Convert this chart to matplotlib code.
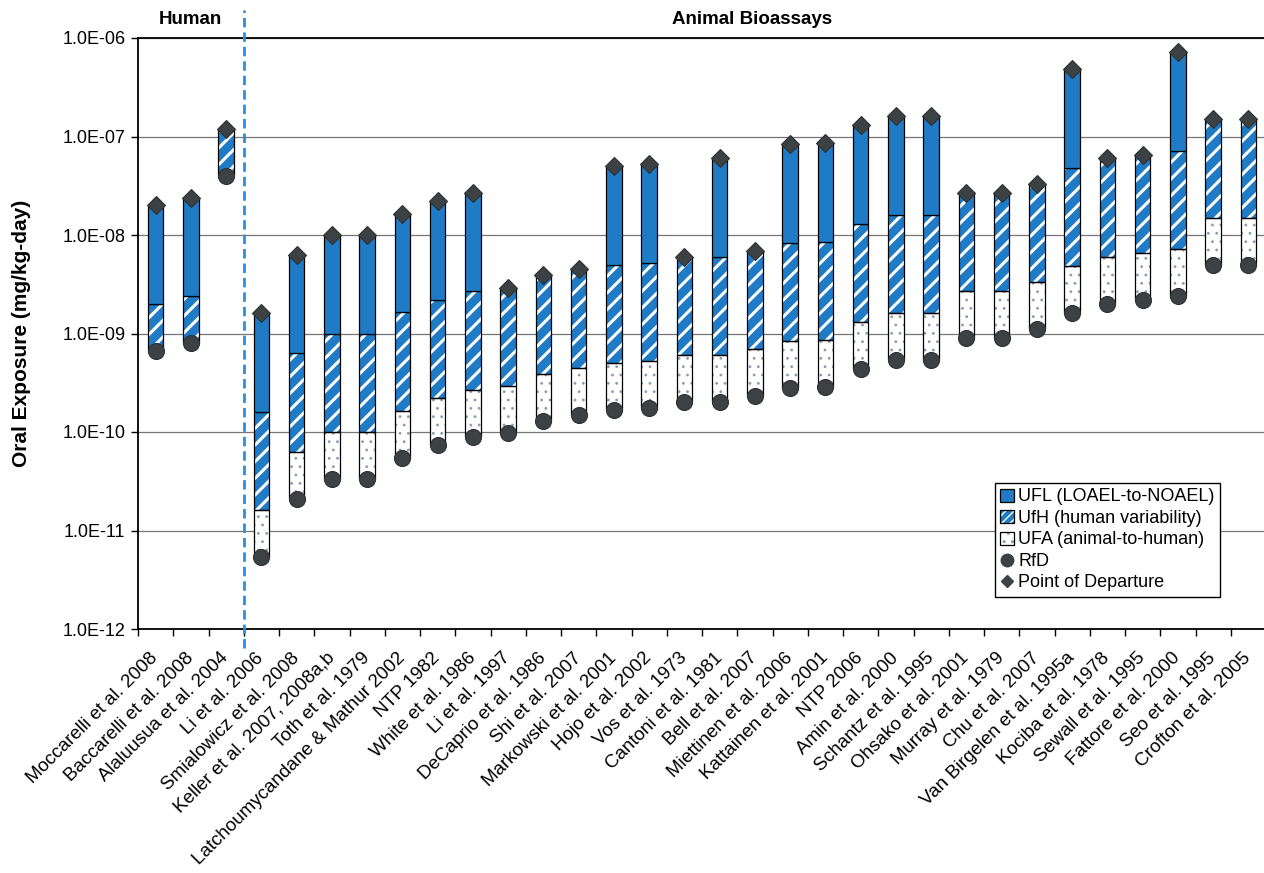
import numpy as np
import matplotlib
matplotlib.use("Agg")
import matplotlib.pyplot as plt
from matplotlib.patches import Patch
from matplotlib.lines import Line2D
from matplotlib.ticker import FixedLocator, FuncFormatter

plt.rcParams['font.family'] = ['Liberation Sans', 'DejaVu Sans']

studies = ["Moccarelli et al. 2008", "Baccarelli et al. 2008", "Alaluusua et al. 2004",
           "Li et al. 2006", "Smialowicz et al. 2008", "Keller et al. 2007, 2008a,b",
           "Toth et al. 1979", "Latchoumycandane & Mathur 2002", "NTP 1982",
           "White et al. 1986", "Li et al. 1997", "DeCaprio et al. 1986", "Shi et al. 2007",
           "Markowski et al. 2001", "Hojo et al. 2002", "Vos et al. 1973",
           "Cantoni et al. 1981", "Bell et al. 2007", "Miettinen et al. 2006",
           "Kattainen et al. 2001", "NTP 2006", "Amin et al. 2000", "Schantz et al. 1995",
           "Ohsako et al. 2001", "Murray et al. 1979", "Chu et al. 2007",
           "Van Birgelen et al. 1995a", "Kociba et al. 1978", "Sewall et al. 1995",
           "Fattore et al. 2000", "Seo et al. 1995", "Crofton et al. 2005"]

# point of departure (mg/kg-day)
pod = [2.0e-8, 2.4e-8, 1.2e-7, 1.6e-9, 6.3e-9, 1.0e-8, 1.0e-8, 1.65e-8,
       2.2e-8, 2.7e-8, 2.9e-9, 3.9e-9, 4.5e-9, 5.0e-8, 5.2e-8, 6.0e-9,
       6.0e-8, 6.9e-9, 8.3e-8, 8.5e-8, 1.3e-7, 1.6e-7, 1.6e-7, 2.7e-8,
       2.7e-8, 3.3e-8, 4.8e-7, 6.0e-8, 6.5e-8, 7.2e-7, 1.5e-7, 1.5e-7]
# uncertainty factors
ufl = [10, 10, 1, 10, 10, 10, 10, 10, 10, 10, 1, 1, 1, 10, 10, 1,
       10, 1, 10, 10, 10, 10, 10, 1, 1, 1, 10, 1, 1, 10, 1, 1]
ufh = [3, 3, 3] + [10] * 29
ufa = [1, 1, 1] + [3] * 29

n_human = 3

pod = np.array(pod)
ufl = np.array(ufl)
ufh = np.array(ufh)
ufa = np.array(ufa)
rfd = pod / (ufl * ufh * ufa)

blue = '#1f7bc6'
mark = '#3c4144'
dotc = '#8c9cb0'
x = np.arange(len(studies))
w = 0.44


def thin_hatch(patches, lw):
    for p in patches:
        if hasattr(p, 'set_hatch_linewidth'):
            p.set_hatch_linewidth(lw)


fig = plt.figure(figsize=(12.64, 8.73), dpi=100)
ax = fig.add_axes([138 / 1264, 1 - 629 / 873, 1128 / 1264, 591 / 873])
ax.set_yscale('log')

# stacked segments: UFA (bottom), UfH, UFL (top)
lo_a, hi_a = rfd, rfd * ufa
lo_h, hi_h = hi_a, hi_a * ufh
lo_l, hi_l = hi_h, pod

m = ufa > 1
with plt.rc_context({'hatch.linewidth': 0.8}):
    dots = ax.bar(x[m], (hi_a - lo_a)[m], bottom=lo_a[m], width=w, color='white',
                  edgecolor=dotc, hatch='..', linewidth=0, zorder=2)
thin_hatch(dots, 0.8)
ax.bar(x[m], (hi_a - lo_a)[m], bottom=lo_a[m], width=w, fill=False,
       edgecolor='black', linewidth=0.9, zorder=3)

with plt.rc_context({'hatch.linewidth': 2.2}):
    stripes = ax.bar(x, hi_h - lo_h, bottom=lo_h, width=w, color=blue,
                     edgecolor='white', hatch='//', linewidth=0, zorder=2)
thin_hatch(stripes, 2.2)
ax.bar(x, hi_h - lo_h, bottom=lo_h, width=w, fill=False,
       edgecolor='black', linewidth=0.9, zorder=3)

m = ufl > 1
ax.bar(x[m], (hi_l - lo_l)[m], bottom=lo_l[m], width=w, color=blue,
       edgecolor='black', linewidth=0.9, zorder=3)

ax.plot(x, rfd, 'o', ms=11.5, color=mark, mec='#2e3133', mew=0.8, zorder=4)
ax.plot(x, pod, 'D', ms=9.5, color=mark, mec='#2e3133', mew=0.8, zorder=4)

ax.set_xlim(-0.5, len(studies) - 0.5)
ax.set_ylim(1e-12, 1e-6)

decades = [1e-12, 1e-11, 1e-10, 1e-9, 1e-8, 1e-7, 1e-6]
ax.yaxis.set_major_locator(FixedLocator(decades))
ax.yaxis.set_minor_locator(FixedLocator([]))
ax.yaxis.set_major_formatter(FuncFormatter(lambda v, p: f"{v:.1E}"))
ax.tick_params(axis='y', labelsize=13, length=5, width=1, pad=4)
ax.yaxis.grid(True, color='#767676', linewidth=0.9)
ax.set_axisbelow(True)

ax.set_xticks(x)
ax.set_xticklabels(studies, rotation=45, ha='right', va='center',
                   rotation_mode='anchor', fontsize=13.5)
ax.set_xticks(np.arange(len(studies) + 1) - 0.5, minor=True)
ax.tick_params(axis='x', which='major', length=0, pad=19)
ax.tick_params(axis='x', which='minor', length=5, width=1)

for s in ['left', 'bottom', 'top']:
    ax.spines[s].set_linewidth(1.3)
    ax.spines[s].set_color('black')
ax.spines['right'].set_visible(False)

# separator between human and animal studies
ax.plot([n_human - 0.5] * 2, [-0.032, 1.047], transform=ax.get_xaxis_transform(),
        clip_on=False, color='#2b8fdb', linewidth=2.0, linestyle=(0, (3.4, 1.8)), zorder=5)

fig.text(190 / 1264, 1 - 20 / 873, 'Human', ha='center', va='center',
         fontsize=13.5, fontweight='bold')
fig.text(752 / 1264, 1 - 20 / 873, 'Animal Bioassays', ha='center', va='center',
         fontsize=13.5, fontweight='bold')
fig.text(22 / 1264, 1 - 333 / 873, 'Oral Exposure (mg/kg-day)', ha='center', va='center',
         rotation=90, fontsize=15, fontweight='bold')

with plt.rc_context({'hatch.linewidth': 1.6}):
    h_stripe = Patch(facecolor=blue, edgecolor='white', hatch='////', linewidth=0)
with plt.rc_context({'hatch.linewidth': 0.8}):
    h_dot = Patch(facecolor='white', edgecolor=dotc, hatch='..', linewidth=0)
thin_hatch([h_stripe], 1.6)
thin_hatch([h_dot], 0.8)

handles = [
    Patch(facecolor=blue, edgecolor='black', linewidth=0.9),
    (h_stripe, Patch(fill=False, edgecolor='black', linewidth=0.9)),
    (h_dot, Patch(fill=False, edgecolor='black', linewidth=0.9)),
    Line2D([], [], marker='o', ls='none', ms=9, color=mark),
    Line2D([], [], marker='D', ls='none', ms=6.5, color=mark),
]
labels = ['UFL (LOAEL-to-NOAEL)', 'UfH (human variability)', 'UFA (animal-to-human)',
          'RfD', 'Point of Departure']
leg = ax.legend(handles, labels, loc='upper left', bbox_to_anchor=(995 / 1264, 1 - 483 / 873),
                bbox_transform=fig.transFigure, fontsize=13, frameon=True, fancybox=False,
                framealpha=1, edgecolor='black', borderaxespad=0, borderpad=0.3,
                labelspacing=0.25, handlelength=0.75, handleheight=0.75, handletextpad=0.25)
leg.get_frame().set_linewidth(1.0)
leg.set_zorder(6)

fig.savefig('out.png', dpi=100)
